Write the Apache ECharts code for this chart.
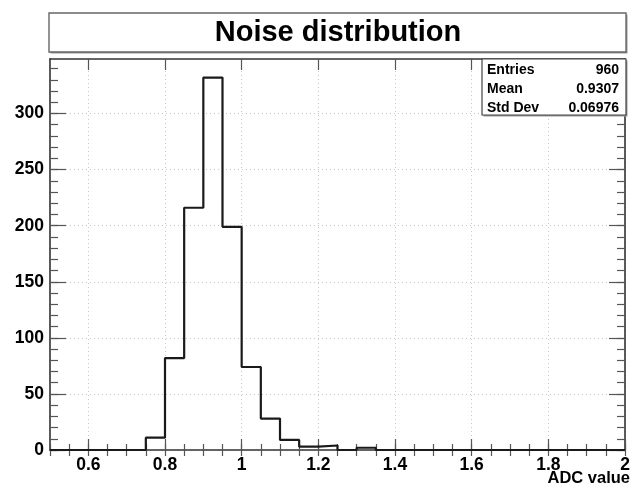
<!DOCTYPE html>
<html>
<head>
<meta charset="utf-8">
<script src="https://cdn.jsdelivr.net/npm/echarts@6/dist/echarts.min.js"></script>
<style>
html,body{margin:0;padding:0;background:#fff;}
#c{width:637px;height:488px;}
</style>
</head>
<body>
<div id="c"></div>
<script>
// ---- data ----
const binLow = 0.5;
const binWidth = 0.05;
const counts = [0,0,0,0,0,11,82,216,332,199,74,28,9,3,4,0,2,0,0,0,0,0,0,0,0,0,0,0,0,0];
const xMajorLabels = [0.6,0.8,1.0,1.2,1.4,1.6,1.8,2.0];
const yMajorLabels = [0,50,100,150,200,250,300];
const statNames = ['Entries','Mean','Std Dev'];
const statValues = ['960','0.9307','0.06976'];
const titleText = 'Noise distribution';
const xTitle = 'ADC value';

const xMin = 0.5, xMax = 2.0, yMin = 0, yMax = 348.6;
const xMinor = []; for (let i = 0; i <= 30; i++) xMinor.push(+(xMin + i*0.05).toFixed(2));
const yMinor = []; for (let v = 0; v <= 340; v += 10) yMinor.push(v);

const stepData = counts.map((c,i)=>[+(binLow + i*binWidth).toFixed(3), c]);
stepData.push([+(binLow + counts.length*binWidth).toFixed(3), counts[counts.length-1]]);

const FONT = 'Liberation Sans, Arial, Helvetica, sans-serif';
const frameColor = '#333';
const tickColor = '#555';
const gridLine = {show:true, lineStyle:{color:'#c8c8c8', type:[1,3], width:1}};

function fmtX(v){ return (Math.round(v*10)/10).toString(); }

const chart = echarts.init(document.getElementById('c'), null, {renderer:'canvas'});
const L = 50, R = 12, T = 59, B = 38;

const option = {
  animation:false,
  backgroundColor:'#fff',
  grid:{left:L, right:R, top:T, bottom:B, containLabel:false},
  xAxis:[
    {type:'value', position:'bottom', min:xMin, max:xMax,
      axisLine:{show:true, onZero:false, lineStyle:{color:frameColor, width:1.6}},
      axisTick:{show:true, inside:true, length:11, customValues:xMajorLabels, lineStyle:{color:tickColor, width:1.2}},
      axisLabel:{show:true, customValues:xMajorLabels, formatter:fmtX, margin:6, color:'#000', fontFamily:FONT, fontWeight:'bold', fontSize:17.5},
      splitLine:gridLine},
    {type:'value', position:'bottom', min:xMin, max:xMax,
      axisLine:{show:false},
      axisTick:{show:true, inside:true, length:6, customValues:xMinor, lineStyle:{color:tickColor, width:1.2}},
      axisLabel:{show:false}, splitLine:{show:false}},
    {type:'value', position:'top', min:xMin, max:xMax,
      axisLine:{show:true, onZero:false, lineStyle:{color:frameColor, width:1.6}},
      axisTick:{show:true, inside:true, length:11, customValues:xMajorLabels, lineStyle:{color:tickColor, width:1.2}},
      axisLabel:{show:false}, splitLine:{show:false}},
    {type:'value', position:'top', min:xMin, max:xMax,
      axisLine:{show:false},
      axisTick:{show:true, inside:true, length:6, customValues:xMinor, lineStyle:{color:tickColor, width:1.2}},
      axisLabel:{show:false}, splitLine:{show:false}}
  ],
  yAxis:[
    {type:'value', position:'left', min:yMin, max:yMax,
      axisLine:{show:true, onZero:false, lineStyle:{color:frameColor, width:1.6}},
      axisTick:{show:true, inside:true, length:16, customValues:yMajorLabels, lineStyle:{color:tickColor, width:1.2}},
      axisLabel:{show:true, customValues:yMajorLabels, margin:6, color:'#000', fontFamily:FONT, fontWeight:'bold', fontSize:17.5},
      splitLine:gridLine},
    {type:'value', position:'left', min:yMin, max:yMax,
      axisLine:{show:false},
      axisTick:{show:true, inside:true, length:8, customValues:yMinor, lineStyle:{color:tickColor, width:1.2}},
      axisLabel:{show:false}, splitLine:{show:false}},
    {type:'value', position:'right', min:yMin, max:yMax,
      axisLine:{show:true, onZero:false, lineStyle:{color:frameColor, width:1.6}},
      axisTick:{show:true, inside:true, length:16, customValues:yMajorLabels, lineStyle:{color:tickColor, width:1.2}},
      axisLabel:{show:false}, splitLine:{show:false}},
    {type:'value', position:'right', min:yMin, max:yMax,
      axisLine:{show:false},
      axisTick:{show:true, inside:true, length:8, customValues:yMinor, lineStyle:{color:tickColor, width:1.2}},
      axisLabel:{show:false}, splitLine:{show:false}}
  ],
  series:[{
    type:'line', xAxisIndex:0, yAxisIndex:0, step:'end', data:stepData,
    symbol:'none', lineStyle:{color:'#1a1a1a', width:2.2}, z:5, clip:false
  }],
  graphic:[
    // title box shadow + box
    {type:'rect', shape:{x:50.5, y:14.5, width:577, height:39}, style:{fill:'#999'}, silent:true, z:1},
    {type:'rect', shape:{x:49, y:13, width:577, height:39}, style:{fill:'#fff', stroke:'#666', lineWidth:1.4}, silent:true, z:2},
    {type:'text', x:338, y:33, style:{text:titleText, fill:'#000', font:'bold 29px '+FONT, align:'center', verticalAlign:'middle'}, z:3},
    // stats box
    {type:'rect', shape:{x:483.5, y:60.5, width:144, height:56}, style:{fill:'#999'}, silent:true, z:10},
    {type:'rect', shape:{x:482, y:59, width:144, height:56}, style:{fill:'#fff', stroke:'#444', lineWidth:1.2}, silent:true, z:11},
    ...statNames.map((n,i)=>({type:'text', x:487, y:70+i*19, style:{text:n, fill:'#000', font:'bold 14px '+FONT, align:'left', verticalAlign:'middle'}, z:12})),
    ...statValues.map((n,i)=>({type:'text', x:619, y:70+i*19, style:{text:n, fill:'#000', font:'bold 14px '+FONT, align:'right', verticalAlign:'middle'}, z:12})),
    // x axis title
    {type:'text', x:630, y:478, style:{text:xTitle, fill:'#000', font:'bold 16.5px '+FONT, align:'right', verticalAlign:'middle'}, z:3}
  ]
};
chart.setOption(option);
</script>
</body>
</html>
